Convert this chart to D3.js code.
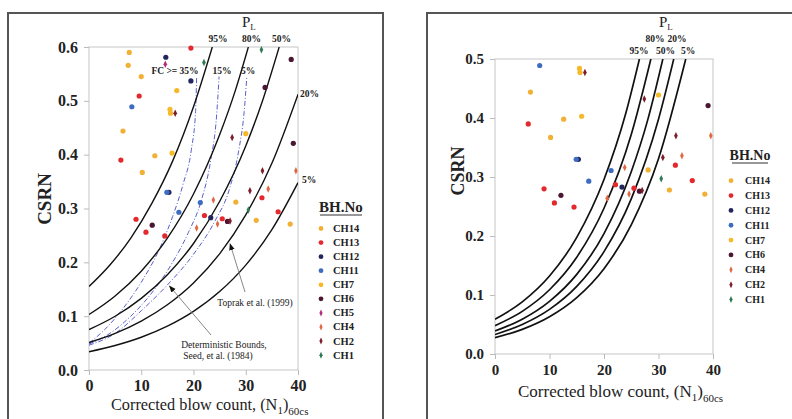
<!DOCTYPE html>
<html><head><meta charset="utf-8">
<script src="https://cdn.jsdelivr.net/npm/d3@7"></script>
<style>body{margin:0;background:#fff}svg{display:block}text{font-family:"Liberation Serif","Times New Roman",serif;fill:#222}</style>
</head><body><svg id="c" width="792" height="419"></svg>
<script>
// ---------- DATA ----------
const boreholes = ["CH14","CH13","CH12","CH11","CH7","CH6","CH5","CH4","CH2","CH1"];
const bhColors  = ["#f2b035","#e3282e","#24255f","#3d6cc0","#f5b92a","#4a1631","#b02f7c","#e06843","#7d1d2b","#2d7b52"];
const bhShapes  = ["circle","circle","circle","circle","circle","circle","diamond","diamond","diamond","diamond"];

const pCH14 = [[7.7,0.590],[7.5,0.566],[10.0,0.545],[6.5,0.444],[10.2,0.367],[12.6,0.398],[32.0,0.278],[38.5,0.271],[28.1,0.312]];
const pCH13 = [[9.6,0.509],[6.1,0.390],[19.5,0.598],[33.1,0.320],[9.0,0.280],[10.9,0.256],[14.5,0.249],[22.1,0.287],[25.5,0.281],[36.2,0.294]];
const pCH12 = [[14.7,0.581],[19.5,0.537],[23.3,0.283],[15.3,0.330]];
const pCH11 = [[8.2,0.489],[21.3,0.311],[17.2,0.293],[14.9,0.330]];
const pCH7  = [[16.8,0.519],[15.5,0.484],[15.6,0.477],[15.9,0.403],[30.0,0.439]];
const pCH6  = [[38.7,0.577],[33.7,0.525],[39.1,0.421],[12.1,0.269],[26.5,0.276]];
const pCH5  = [[14.6,0.568]];
const pCH4  = [[39.6,0.370],[34.3,0.336],[23.8,0.316],[20.6,0.264],[24.6,0.271]];
const pCH2  = [[16.5,0.477],[27.4,0.432],[33.2,0.370],[30.8,0.333],[27.0,0.277]];
const pCH1  = [[22.0,0.571],[33.0,0.595],[30.5,0.297]];
const bhPoints = [pCH14,pCH13,pCH12,pCH11,pCH7,pCH6,pCH5,pCH4,pCH2,pCH1];

// Left panel: Toprak et al. (1999) probability curves
const leftPL = ["95%","80%","50%","20%","5%"];
const left95 = [[0,0.155],[4,0.195],[8,0.245],[12,0.309],[16,0.388],[20,0.489],[23.6,0.600]];
const left80 = [[0,0.103],[5,0.1375],[10,0.1836],[15,0.245],[20,0.327],[25,0.437],[28,0.519],[30.5,0.600]];
const left50 = [[0,0.075],[5,0.0998],[10,0.133],[15,0.177],[20,0.235],[25,0.313],[30,0.416],[33,0.494],[36.4,0.600]];
const left20 = [[0,0.051],[5,0.068],[10,0.0908],[15,0.1212],[20,0.1617],[25,0.2158],[30,0.288],[35,0.384],[40,0.512]];
const left05 = [[0,0.034],[5,0.0455],[10,0.0608],[15,0.0814],[20,0.1089],[25,0.1457],[30,0.1949],[35,0.2607],[40,0.348]];
// Seed et al. (1984) deterministic bounds
const seedFC = ["FC >= 35%","15%","5%"];
const seed35 = [[0,0.050],[3,0.075],[6,0.108],[10,0.163],[13,0.215],[16,0.285],[18,0.345],[19.6,0.41],[20.4,0.48],[20.6,0.545]];
const seed15 = [[0,0.048],[4,0.068],[8,0.100],[12,0.143],[16,0.200],[19,0.255],[21.5,0.315],[23.3,0.39],[24.4,0.47],[24.9,0.545]];
const seed05 = [[0,0.046],[5,0.068],[10,0.110],[15,0.158],[20,0.215],[24,0.275],[27,0.34],[28.7,0.41],[29.7,0.48],[30.2,0.545]];

// Right panel probability curves
const right95 = [[0,0.059],[5,0.0883],[10,0.1321],[15,0.1977],[20,0.2958],[24,0.408],[26.5,0.500]];
const right80 = [[0,0.048],[5,0.0723],[10,0.1089],[15,0.164],[20,0.247],[25,0.372],[28.6,0.500]];
const right50 = [[0,0.039],[5,0.059],[10,0.0893],[15,0.135],[20,0.204],[25,0.309],[28,0.396],[30.8,0.500]];
const right20 = [[0,0.033],[5,0.050],[10,0.0756],[15,0.1146],[20,0.1735],[25,0.263],[30,0.398],[32.8,0.500]];
const right05 = [[0,0.0276],[5,0.0418],[10,0.0632],[15,0.0956],[20,0.1446],[25,0.219],[30,0.331],[35,0.500]];

const xTicks = [0,10,20,30,40];
const yTicksLeft = [0,0.1,0.2,0.3,0.4,0.5,0.6];
const yTicksRight = [0,0.1,0.2,0.3,0.4,0.5];

// ---------- DRAW ----------
const svg = d3.select("#c");
const defs = svg.append("defs");
defs.append("marker").attr("id","ah").attr("viewBox","0 0 10 10").attr("refX",9).attr("refY",5)
  .attr("markerWidth",7).attr("markerHeight",7).attr("orient","auto-start-reverse")
  .append("path").attr("d","M0,1 L10,5 L0,9 z").attr("fill","#111");

// outer frames
svg.append("rect").attr("x",8).attr("y",13).attr("width",375).attr("height",430).attr("fill","none").attr("stroke","#555").attr("stroke-width",2);
svg.append("rect").attr("x",427).attr("y",13).attr("width",400).attr("height",430).attr("fill","none").attr("stroke","#555").attr("stroke-width",2);

function diamondPath(cx,cy,w,h){return `M${cx},${cy-h/2}L${cx+w/2},${cy}L${cx},${cy+h/2}L${cx-w/2},${cy}Z`;}

function panel(o){
  const g = svg.append("g");
  const x = d3.scaleLinear().domain([0,40]).range([o.x0,o.x1]);
  const y = d3.scaleLinear().domain([0,o.ymax]).range([o.y0,o.y1]);
  const cid = "clip"+o.id;
  defs.append("clipPath").attr("id",cid).append("rect")
    .attr("x",o.x0).attr("y",o.y1).attr("width",o.x1-o.x0).attr("height",o.y0-o.y1);
  g.append("rect").attr("x",o.x0).attr("y",o.y1).attr("width",o.x1-o.x0).attr("height",o.y0-o.y1)
    .attr("fill","none").attr("stroke","#cfcfcf").attr("stroke-width",1.2);
  const ya = g.append("g").attr("transform",`translate(${o.x0},0)`)
    .call(d3.axisLeft(y).tickValues(o.yTicks).tickSize(5).tickPadding(6).tickFormat(d3.format(".1f")));
  const xa = g.append("g").attr("transform",`translate(0,${o.y0})`)
    .call(d3.axisBottom(x).tickValues(xTicks).tickSize(5).tickPadding(5));
  [ya,xa].forEach(a=>{
    a.attr("font-family","Liberation Serif");
    a.select(".domain").remove();
    a.selectAll(".tick line").attr("stroke","#bbb");
    a.selectAll("text").attr("font-family","Liberation Serif").attr("font-size",o.tickFs).attr("font-weight","bold").attr("fill","#333");
  });
  const line = d3.line().x(d=>x(d[0])).y(d=>y(d[1])).curve(d3.curveMonotoneX);
  const lg = g.append("g").attr("clip-path",`url(#${cid})`);
  (o.dashed||[]).forEach(c=>{
    lg.append("path").attr("d",line(c)).attr("fill","none").attr("stroke","#5b5fcb")
      .attr("stroke-width",1).attr("stroke-dasharray","5,2,1,2");
  });
  o.curves.forEach(c=>{
    lg.append("path").attr("d",line(c)).attr("fill","none").attr("stroke","#111").attr("stroke-width",o.curveW);
  });
  boreholes.forEach((b,i)=>{
    bhPoints[i].filter(p=>p[1]<=o.ymax+0.003).forEach(p=>{
      if(bhShapes[i]==="circle")
        g.append("circle").attr("cx",x(p[0])).attr("cy",y(p[1])).attr("r",2.6).attr("fill",bhColors[i]);
      else
        g.append("path").attr("d",diamondPath(x(p[0]),y(p[1]),3.6,7.5)).attr("fill",bhColors[i]);
    });
  });
  g.append("text").attr("transform",`translate(${o.ytx},${o.yty}) rotate(-90)`).attr("text-anchor","middle")
    .attr("dominant-baseline","central").attr("font-size",o.ytFs).attr("font-weight","bold").text("CSRN");
  const xt = g.append("text").attr("x",o.xtx).attr("y",o.xty).attr("font-size",o.xtFs).attr("fill","#222");
  xt.append("tspan").text("Corrected blow count, (N");
  xt.append("tspan").attr("font-size",11).attr("dy",4).text("1");
  xt.append("tspan").attr("dy",-4).text(")");
  xt.append("tspan").attr("font-size",11).attr("dy",5).text("60cs");
  const pl = g.append("text").attr("x",o.plx).attr("y",o.ply).attr("font-size",15);
  pl.append("tspan").text("P");
  pl.append("tspan").attr("font-size",9).attr("dy",3).text("L");
  const lgd = g.append("g");
  lgd.append("text").attr("x",o.lgx).attr("y",o.lgy).attr("text-anchor","middle").attr("font-size",o.lgHFs)
    .attr("font-weight","bold").text("BH.No");
  lgd.append("line").attr("x1",o.lgx-o.lgUw/2).attr("x2",o.lgx+o.lgUw/2).attr("y1",o.lgy+3).attr("y2",o.lgy+3)
    .attr("stroke","#333").attr("stroke-width",1.2);
  o.legendItems.forEach((b,k)=>{
    const i = boreholes.indexOf(b);
    const cy = o.leg0 + k*o.legStep;
    if(bhShapes[i]==="circle") lgd.append("circle").attr("cx",o.lmx).attr("cy",cy).attr("r",2.4).attr("fill",bhColors[i]);
    else lgd.append("path").attr("d",diamondPath(o.lmx,cy,3.2,7)).attr("fill",bhColors[i]);
    lgd.append("text").attr("x",o.ltx).attr("y",cy).attr("dominant-baseline","central")
      .attr("font-size",o.lgFs).attr("font-weight","bold").text(b);
  });
  return {g,x,y};
}

// ---- left panel ----
const L = panel({id:"L",x0:89,x1:298,y0:370,y1:47,ymax:0.6,yTicks:yTicksLeft,tickFs:16,
  curves:[left95,left80,left50,left20,left05],dashed:[seed35,seed15,seed05],curveW:1.4,
  ytx:44,yty:199,ytFs:19,xtx:111,xty:410,xtFs:16.3,plx:242,ply:27,
  lgx:341,lgy:212,lgHFs:15,lgUw:42,leg0:228.5,legStep:14.07,lmx:321,ltx:333,lgFs:10.5,
  legendItems:boreholes});
const lt = (t,x,y,fs,anc,w)=>L.g.append("text").attr("x",x).attr("y",y).attr("font-size",fs)
  .attr("text-anchor",anc||"middle").attr("font-weight",w||"bold").text(t);
lt(leftPL[0],218,42,9.5); lt(leftPL[1],251.5,42,9.5); lt(leftPL[2],281.5,42,9.5);
lt(leftPL[3],300,97,9.5,"start"); lt(leftPL[4],302,183,9.5,"start");
lt(seedFC[0],175,74,9.5); lt(seedFC[1],222,74,9.5); lt(seedFC[2],248,74,9.5);
lt("Toprak et al. (1999)",255,306,9.5,"middle","normal");
lt("Deterministic Bounds,",224,348,9.5,"middle","normal");
lt("Seed, et al. (1984)",218,359,9.5,"middle","normal");
L.g.append("line").attr("x1",245).attr("y1",292).attr("x2",L.x(27)).attr("y2",L.y(0.238)+2)
  .attr("stroke","#888").attr("stroke-width",1).attr("marker-end","url(#ah)");
L.g.append("line").attr("x1",211).attr("y1",335).attr("x2",L.x(15.4)).attr("y2",L.y(0.158)+1)
  .attr("stroke","#888").attr("stroke-width",1).attr("marker-end","url(#ah)");

// ---- right panel ----
const R = panel({id:"R",x0:495,x1:713,y0:354,y1:59,ymax:0.5,yTicks:yTicksRight,tickFs:15,
  curves:[right95,right80,right50,right20,right05],curveW:1.7,
  ytx:458,yty:171,ytFs:18,xtx:518,xty:397,xtFs:17,plx:659,ply:27,
  lgx:750,lgy:160,lgHFs:14,lgUw:36,leg0:180.7,legStep:14.85,lmx:731,ltx:745,lgFs:10,
  legendItems:boreholes.filter(b=>b!=="CH5")});
const rt = (t,x,y)=>R.g.append("text").attr("x",x).attr("y",y).attr("font-size",9.5)
  .attr("text-anchor","middle").attr("font-weight","bold").text(t);
rt("80%",655,42); rt("20%",677,42); rt("95%",639,54); rt("50%",665.5,54); rt("5%",688,54);
</script></body></html>
